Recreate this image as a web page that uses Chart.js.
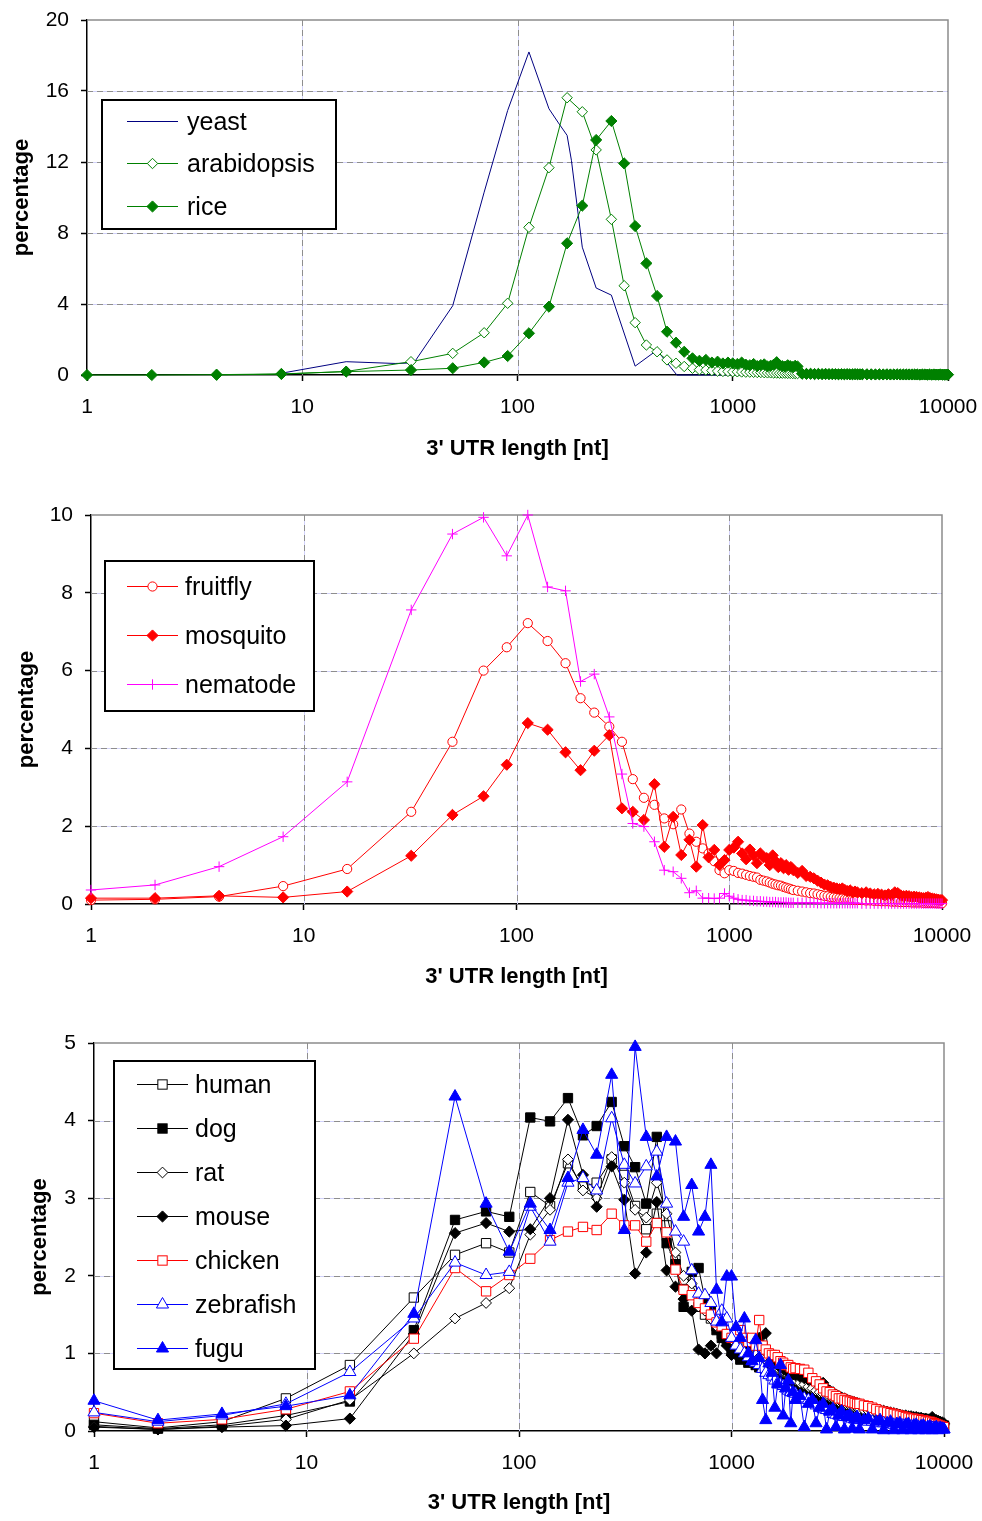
<!DOCTYPE html>
<html><head><meta charset="utf-8">
<script src="https://cdn.jsdelivr.net/npm/chart.js@4.4.1/dist/chart.umd.min.js"></script>
<style>
html,body{margin:0;padding:0;background:#fff;}
#wrap{position:relative;width:982px;height:1521px;overflow:hidden;font-family:"Liberation Sans",Arial,sans-serif;}
canvas{position:absolute;left:0;z-index:0;}
.lg{position:absolute;border:2px solid #000;background:#fff;box-sizing:border-box;z-index:1;}
.lt{position:absolute;font-size:25px;line-height:25px;color:#000;white-space:nowrap;z-index:3;}
#sw{position:absolute;left:0;top:0;z-index:2;pointer-events:none;}
</style></head><body><div id="wrap">
<canvas id="c1"></canvas><canvas id="c2"></canvas><canvas id="c3"></canvas>
<svg id="sw" width="982" height="1521" xmlns="http://www.w3.org/2000/svg"></svg>
</div>
<script>
// ---------------- DATA ----------------
const xTickValues = [1, 10, 100, 1000, 10000];
const yTicks1 = [0, 4, 8, 12, 16, 20];
const yTicks2 = [0, 2, 4, 6, 8, 10];
const yTicks3 = [0, 1, 2, 3, 4, 5];

// 3' UTR length bins (nt): 30 core bins + 70 tail bins
const lengthBins = [
  1, 2, 4, 8, 16, 32, 50, 70, 90, 113,
  140, 170, 200, 232, 273, 313, 352, 397, 445, 495,
  545, 595, 650, 700, 750, 800, 850, 900, 950, 1000,
  1050, 1100, 1150, 1200, 1250, 1300, 1350, 1400, 1450, 1500,
  1550, 1600, 1650, 1700, 1750, 1800, 1850, 1900, 1950, 2000,
  2100, 2200, 2300, 2400, 2500, 2600, 2700, 2800, 2900, 3000,
  3100, 3200, 3300, 3400, 3500, 3600, 3700, 3800, 3900, 4000,
  4200, 4400, 4600, 4800, 5000, 5200, 5400, 5600, 5800, 6000,
  6200, 6400, 6600, 6800, 7000, 7200, 7400, 7600, 7800, 8000,
  8200, 8400, 8600, 8800, 9000, 9200, 9400, 9600, 9800, 10000
];

// panel 1
const yeastLengths = [8, 16, 27, 33, 50, 70, 90, 113, 140, 155, 170, 178, 200, 232, 273, 352, 445, 550, 1000, 1500];
const yeast = [0.1, 0.75, 0.65, 0.68, 3.9, 10.3, 14.9, 18.2, 15.0, 14.2, 13.5, 12.1, 7.2, 4.9, 4.5, 0.5, 1.4, 0, 0, 0];
const arabidopsis = [
  null, null, 0, 0.05, 0.2, 0.75, 1.22, 2.38, 4.04, 8.32,
  11.68, 15.62, 14.83, 12.68, 8.77, 5.03, 2.95, 1.69, 1.31, 0.85,
  0.66, 0.48, 0.38, 0.3, 0.28, 0.25, 0.22, 0.2, 0.2, 0.18,
  0.18, 0.17, 0.16, 0.16, 0.15, 0.14, 0.14, 0.13, 0.12, 0.12,
  0.11, 0.11, 0.1, 0.1, 0.1, 0.09, 0.09, 0.08, 0.08, 0.08,
  0.07, 0.07, 0.06, 0.06, 0.06, 0.05, 0.05, 0.05, 0.05, 0.04,
  0.04, 0.04, 0.04, 0.04, 0.03, 0.03, 0.03, 0.03, 0.03, 0.03,
  0.03, 0.02, 0.02, 0.02, 0.02, 0.02, 0.02, 0.02, 0.02, 0.01,
  0.01, 0.01, 0.01, 0.01, 0.01, 0.01, 0.01, 0.01, 0.01, 0.01,
  0.01, 0.01, 0.01, 0.01, 0.01, 0.01, 0.01, 0.01, 0.01, 0.01
];
const rice = [
  0, 0, 0.02, 0.06, 0.19, 0.28, 0.38, 0.71, 1.07, 2.35,
  3.85, 7.42, 9.54, 13.24, 14.31, 11.92, 8.39, 6.29, 4.45, 2.44,
  1.82, 1.31, 0.94, 0.8, 0.85, 0.7, 0.75, 0.65, 0.7, 0.65,
  0.62, 0.7, 0.58, 0.55, 0.62, 0.5, 0.56, 0.6, 0.48, 0.52,
  0.58, 0.72, 0.55, 0.5, 0.47, 0.55, 0.5, 0.45, 0.52, 0.48,
  0.07, 0.06, 0.07, 0.05, 0.06, 0.05, 0.06, 0.05, 0.05, 0.05,
  0.04, 0.05, 0.04, 0.05, 0.04, 0.04, 0.05, 0.04, 0.04, 0.04,
  0.04, 0.04, 0.03, 0.04, 0.03, 0.04, 0.03, 0.03, 0.04, 0.03,
  0.03, 0.03, 0.03, 0.03, 0.03, 0.03, 0.02, 0.03, 0.03, 0.02,
  0.03, 0.02, 0.03, 0.02, 0.02, 0.03, 0.02, 0.02, 0.02, 0.02
];

// panel 2
const fruitfly = [
  0.1, 0.12, 0.19, 0.46, 0.9, 2.37, 4.17, 6.0, 6.6, 7.22,
  6.76, 6.19, 5.29, 4.92, 4.56, 4.17, 3.21, 2.73, 2.55, 2.2,
  2.05, 2.43, 1.81, 1.6, 1.43, 1.3, 1.1, 0.87, 0.79, 0.87,
  0.85, 0.8, 0.78, 0.75, 0.72, 0.7, 0.68, 0.62, 0.6, 0.58,
  0.55, 0.52, 0.5, 0.48, 0.47, 0.44, 0.42, 0.4, 0.38, 0.36,
  0.34, 0.32, 0.3, 0.28, 0.27, 0.25, 0.23, 0.21, 0.2, 0.18,
  0.17, 0.16, 0.15, 0.14, 0.13, 0.13, 0.12, 0.11, 0.11, 0.1,
  0.1, 0.09, 0.09, 0.08, 0.08, 0.07, 0.07, 0.07, 0.06, 0.06,
  0.06, 0.05, 0.05, 0.05, 0.05, 0.04, 0.04, 0.04, 0.04, 0.04,
  0.03, 0.03, 0.03, 0.03, 0.03, 0.03, 0.02, 0.02, 0.02, 0.02
];
const mosquito = [
  0.15, 0.15, 0.21, 0.17, 0.32, 1.24, 2.29, 2.77, 3.58, 4.65,
  4.48, 3.9, 3.44, 3.94, 4.34, 2.46, 2.37, 2.16, 3.08, 1.47,
  2.24, 1.26, 1.65, 0.96, 2.03, 1.2, 1.39, 1.0, 1.13, 1.39,
  1.45, 1.6, 1.3, 1.15, 1.4, 1.25, 1.05, 1.3, 1.2, 1.18,
  1.0, 1.25, 1.1, 0.95, 1.05, 0.92, 1.0, 0.88, 0.95, 0.87,
  0.8, 0.85, 0.72, 0.7, 0.66, 0.6, 0.55, 0.5, 0.48, 0.44,
  0.42, 0.4, 0.38, 0.4, 0.36, 0.33, 0.35, 0.3, 0.32, 0.3,
  0.28, 0.3, 0.27, 0.25, 0.26, 0.24, 0.22, 0.25, 0.23, 0.3,
  0.28, 0.22, 0.2, 0.21, 0.2, 0.18, 0.19, 0.18, 0.17, 0.16,
  0.15, 0.16, 0.18, 0.15, 0.14, 0.13, 0.12, 0.11, 0.1, 0.1
];
const nematode = [
  0.36, 0.49, 0.96, 1.73, 3.14, 7.56, 9.51, 9.94, 8.95, 10.0,
  8.15, 8.05, 5.72, 5.91, 4.81, 3.34, 2.07, 1.99, 1.6, 0.87,
  0.83, 0.66, 0.29, 0.34, 0.15, 0.15, 0.14, 0.15, 0.27, 0.2,
  0.15, 0.12, 0.1, 0.1, 0.08, 0.08, 0.07, 0.07, 0.06, 0.06,
  0.05, 0.05, 0.05, 0.04, 0.04, 0.04, 0.04, 0.03, 0.03, 0.03,
  0.03, 0.03, 0.03, 0.03, 0.03, 0.02, 0.02, 0.02, 0.02, 0.02,
  0.02, 0.02, 0.02, 0.02, 0.02, 0.02, 0.02, 0.02, 0.02, 0.02,
  0.01, 0.01, 0.01, 0.01, 0.01, 0.01, 0.01, 0.01, 0.01, 0.01,
  0.01, 0.01, 0.01, 0.01, 0.01, 0.01, 0.01, 0.01, 0.01, 0.01,
  0.01, 0.01, 0.01, 0.01, 0.01, 0.01, 0.01, 0.01, 0.01, 0.01
];

// panel 3
const human = [
  0.12, 0.04, 0.12, 0.42, 0.85, 1.72, 2.27, 2.42, 2.3, 3.08,
  2.9, 3.45, 3.15, 3.2, 3.5, 3.3, 2.9, 2.6, 2.8, 2.65,
  2.2, 1.95, 1.8, 1.6, 1.5, 1.45, 1.35, 1.25, 1.2, 1.1,
  1.05, 1.0, 0.98, 0.95, 0.92, 0.9, 0.88, 0.85, 0.82, 0.8,
  0.78, 0.76, 0.73, 0.7, 0.68, 0.66, 0.64, 0.62, 0.6, 0.58,
  0.55, 0.52, 0.5, 0.48, 0.46, 0.44, 0.42, 0.4, 0.38, 0.36,
  0.35, 0.33, 0.32, 0.31, 0.3, 0.29, 0.28, 0.27, 0.26, 0.25,
  0.24, 0.23, 0.22, 0.21, 0.2, 0.19, 0.18, 0.17, 0.16, 0.16,
  0.15, 0.15, 0.14, 0.13, 0.13, 0.12, 0.12, 0.11, 0.11, 0.1,
  0.1, 0.09, 0.09, 0.08, 0.08, 0.08, 0.07, 0.07, 0.06, 0.06
];
const dog = [
  0.08, 0.03, 0.08, 0.2, 0.38, 1.3, 2.72, 2.83, 2.76, 4.04,
  3.99, 4.29, 3.81, 3.93, 4.24, 3.67, 3.4, 2.93, 3.79, 2.42,
  2.15, 1.6, 2.05, 2.1, 1.7, 1.55, 1.3, 1.2, 1.15, 1.05,
  1.0, 0.92, 0.95, 0.88, 0.9, 0.85, 0.82, 0.86, 0.8, 0.78,
  0.75, 0.77, 0.72, 0.7, 0.68, 0.66, 0.63, 0.62, 0.6, 0.58,
  0.56, 0.53, 0.5, 0.47, 0.45, 0.43, 0.41, 0.39, 0.37, 0.35,
  0.34, 0.32, 0.31, 0.3, 0.29, 0.28, 0.27, 0.26, 0.25, 0.24,
  0.23, 0.22, 0.21, 0.2, 0.19, 0.18, 0.17, 0.17, 0.16, 0.15,
  0.15, 0.14, 0.14, 0.13, 0.13, 0.12, 0.12, 0.11, 0.11, 0.1,
  0.1, 0.09, 0.09, 0.09, 0.08, 0.08, 0.08, 0.07, 0.07, 0.07
];
const rat = [
  0.06, 0.02, 0.06, 0.15, 0.4, 1.0, 1.45, 1.65, 1.84, 2.53,
  2.85, 3.5, 3.1, 3.0, 3.53, 3.2, 2.85, 2.75, 3.2, 2.8,
  2.3, 2.0, 1.9, 1.7, 1.55, 1.45, 1.35, 1.3, 1.25, 1.15,
  1.1, 1.08, 1.05, 1.02, 1.0, 0.98, 0.95, 0.92, 0.9, 0.88,
  0.85, 0.83, 0.8, 0.78, 0.76, 0.74, 0.72, 0.7, 0.68, 0.66,
  0.62, 0.6, 0.57, 0.55, 0.52, 0.5, 0.48, 0.46, 0.44, 0.42,
  0.4, 0.38, 0.37, 0.35, 0.34, 0.33, 0.32, 0.31, 0.3, 0.29,
  0.27, 0.26, 0.25, 0.24, 0.23, 0.22, 0.21, 0.2, 0.19, 0.19,
  0.18, 0.17, 0.17, 0.16, 0.15, 0.15, 0.14, 0.14, 0.13, 0.13,
  0.12, 0.12, 0.11, 0.11, 0.1, 0.1, 0.09, 0.09, 0.08, 0.08
];
const mouse = [
  0.05, 0.02, 0.05, 0.07, 0.16, 1.25, 2.55, 2.68, 2.57, 2.6,
  3.0, 4.01, 3.3, 2.89, 3.41, 2.98, 2.03, 2.3, 2.95, 2.07,
  1.86, 1.7, 1.55, 1.05, 1.0, 1.1, 1.0, 1.25, 1.1, 0.98,
  0.98, 1.0, 0.95, 1.05, 1.1, 1.15, 1.2, 1.1, 1.26, 1.0,
  0.92, 0.88, 0.85, 0.82, 0.8, 0.78, 0.76, 0.75, 0.73, 0.72,
  0.7, 0.68, 0.66, 0.65, 0.64, 0.62, 0.62, 0.55, 0.52, 0.5,
  0.47, 0.45, 0.43, 0.42, 0.4, 0.39, 0.38, 0.37, 0.36, 0.35,
  0.33, 0.31, 0.3, 0.28, 0.27, 0.26, 0.25, 0.24, 0.23, 0.22,
  0.21, 0.2, 0.2, 0.19, 0.19, 0.18, 0.18, 0.17, 0.17, 0.16,
  0.16, 0.15, 0.15, 0.18, 0.14, 0.14, 0.13, 0.12, 0.11, 0.1
];
const chicken = [
  0.23, 0.1, 0.15, 0.28, 0.51, 1.19, 2.1, 1.8, 2.01, 2.22,
  2.46, 2.57, 2.63, 2.59, 2.8, 2.65, 2.65, 2.44, 2.68, 2.56,
  2.08, 1.82, 1.75, 1.65, 1.58, 1.5, 1.4, 1.35, 1.25, 1.2,
  1.25, 1.3, 1.2, 1.15, 1.2, 1.1, 1.43, 1.1, 1.05, 1.0,
  0.98, 0.98, 0.95, 0.9, 0.88, 0.85, 0.85, 0.82, 0.8, 0.81,
  0.8, 0.79, 0.75, 0.68, 0.64, 0.6, 0.55, 0.51, 0.5, 0.47,
  0.45, 0.42, 0.42, 0.4, 0.39, 0.38, 0.37, 0.36, 0.35, 0.35,
  0.33, 0.32, 0.3, 0.28, 0.26, 0.25, 0.24, 0.23, 0.22, 0.21,
  0.2, 0.19, 0.18, 0.17, 0.16, 0.16, 0.15, 0.15, 0.14, 0.14,
  0.13, 0.12, 0.12, 0.11, 0.1, 0.09, 0.08, 0.07, 0.06, 0.05
];
const zebrafish = [
  0.24, 0.12, 0.2, 0.35, 0.76, 1.45, 2.17, 2.01, 2.05, 2.89,
  2.44, 3.2, 3.26, 3.1, 4.03, 3.43, 3.19, 3.41, 3.6, 2.93,
  2.57, 2.44, 2.07, 1.77, 1.75, 1.65, 1.41, 1.55, 1.45, 1.2,
  1.1, 1.05, 1.0, 0.95, 0.9, 0.88, 0.85, 0.8, 0.75, 0.72,
  0.7, 0.65, 0.62, 0.6, 0.58, 0.55, 0.52, 0.5, 0.49, 0.48,
  0.45, 0.42, 0.4, 0.36, 0.33, 0.3, 0.28, 0.27, 0.25, 0.22,
  0.21, 0.2, 0.19, 0.18, 0.18, 0.17, 0.16, 0.15, 0.15, 0.14,
  0.13, 0.12, 0.12, 0.11, 0.1, 0.1, 0.09, 0.09, 0.08, 0.08,
  0.07, 0.07, 0.07, 0.06, 0.06, 0.06, 0.05, 0.05, 0.05, 0.05,
  0.04, 0.04, 0.04, 0.04, 0.03, 0.03, 0.03, 0.03, 0.02, 0.02
];
const fugu = [
  0.39, 0.14, 0.22, 0.32, 0.46, 1.51, 4.31, 2.93, 2.31, 2.93,
  2.59, 3.26, 3.88, 3.56, 4.59, 2.59, 4.95, 3.79, 3.28, 3.79,
  3.73, 2.76, 3.17, 2.57, 2.76, 3.43, 1.82, 1.4, 1.99, 1.99,
  1.34, 1.2, 1.45, 1.0, 0.9, 1.17, 0.94, 0.4, 0.14, 0.87,
  0.75, 0.3, 0.6, 0.85, 0.2, 0.55, 0.65, 0.1, 0.5, 0.4,
  0.45, 0.05, 0.35, 0.4, 0.1, 0.3, 0.35, 0.02, 0.25, 0.28,
  0.05, 0.2, 0.25, 0.02, 0.18, 0.2, 0.03, 0.15, 0.18, 0.02,
  0.14, 0.16, 0.02, 0.12, 0.14, 0.01, 0.1, 0.12, 0.01, 0.09,
  0.1, 0.01, 0.08, 0.09, 0.01, 0.07, 0.08, 0.01, 0.06, 0.07,
  0.01, 0.05, 0.06, 0.01, 0.04, 0.05, 0.01, 0.04, 0.03, 0.02
];

// ---------------- RENDERING ----------------
const FONT = "'Liberation Sans', Arial, sans-serif";

function pts(xs, ys) {
  const out = [];
  for (let i = 0; i < xs.length; i++) {
    if (ys[i] !== null && ys[i] !== undefined) out.push({x: xs[i], y: ys[i]});
  }
  return out;
}

function series(label, xs, ys, color, style, radius, filled) {
  return {
    label, data: pts(xs, ys), showLine: true, tension: 0, clip: false,
    borderColor: color, borderWidth: 1,
    pointStyle: style === 'none' ? 'circle' : style,
    pointRadius: style === 'none' ? 0 : radius,
    pointBorderColor: color, pointBorderWidth: 1,
    pointBackgroundColor: filled ? color : '#ffffff',
    _style: style, _r: radius, _filled: filled
  };
}

const gridPlugin = {
  id: 'excelGrid',
  beforeDatasetsDraw(chart) {
    const {ctx, chartArea: {left, right, top, bottom}, scales: {x, y}} = chart;
    const lines = [];
    x.ticks.forEach(t => {
      const p = Math.round(x.getPixelForValue(t.value)) + 0.5;
      if (p > left + 2 && p < right - 2) lines.push([p, top, p, bottom]);
    });
    y.ticks.forEach(t => {
      const p = Math.round(y.getPixelForValue(t.value)) + 0.5;
      if (p > top + 2 && p < bottom - 2) lines.push([left, p, right, p]);
    });
    ctx.save();
    ctx.lineWidth = 1;
    const strokeAll = () => {
      ctx.beginPath();
      lines.forEach(l => { ctx.moveTo(l[0], l[1]); ctx.lineTo(l[2], l[3]); });
      ctx.stroke();
    };
    ctx.strokeStyle = '#d2d2fa'; ctx.setLineDash([]); strokeAll();
    ctx.strokeStyle = '#8e8e8e'; ctx.setLineDash([6, 4]); strokeAll();
    ctx.setLineDash([]);
    ctx.strokeStyle = '#8c8c8c'; ctx.lineWidth = 1.5;
    ctx.beginPath(); ctx.moveTo(left, top); ctx.lineTo(right, top); ctx.lineTo(right, bottom); ctx.stroke();
    ctx.restore();
  }
};

function makePanel(id, geo, yTickList, datasets) {
  const canvas = document.getElementById(id);
  canvas.width = 982; canvas.height = geo.h;
  canvas.style.top = geo.t + 'px';
  canvas.style.width = '982px'; canvas.style.height = geo.h + 'px';
  datasets.forEach((d, i) => { d.order = -i; });
  new Chart(canvas, {
    type: 'scatter',
    data: {datasets},
    options: {
      responsive: false, animation: false, events: [], devicePixelRatio: 1,
      layout: {padding: {left: 0, right: 982 - geo.right, top: geo.top - geo.t, bottom: 0}},
      plugins: {legend: {display: false}, tooltip: {enabled: false}},
      scales: {
        x: {
          type: 'logarithmic', min: 1, max: 10000,
          afterBuildTicks: s => { s.ticks = xTickValues.map(v => ({value: v})); },
          afterFit: s => { s.height = geo.h - (geo.bottom - geo.t); s.paddingLeft = 0; s.paddingRight = 0; },
          ticks: {callback: v => String(v), font: {family: FONT, size: 21}, color: '#000', padding: 14, maxRotation: 0, autoSkip: false},
          grid: {display: true, drawOnChartArea: false, drawTicks: true, tickLength: 6, tickColor: '#000', tickWidth: 1.5},
          border: {display: true, color: '#000', width: 1.5},
          title: {display: true, text: "3' UTR length [nt]", color: '#000',
                  font: {family: FONT, size: 22, weight: 'bold'},
                  padding: {top: 0, bottom: geo.t + geo.h - geo.xTitleY - 13.2}}
        },
        y: {
          type: 'linear', min: yTickList[0], max: yTickList[yTickList.length - 1],
          afterBuildTicks: s => { s.ticks = yTickList.map(v => ({value: v})); },
          afterFit: s => { s.width = geo.left; s.paddingTop = 0; s.paddingBottom = 0; },
          ticks: {font: {family: FONT, size: 21}, color: '#000', padding: 12},
          grid: {display: true, drawOnChartArea: false, drawTicks: true, tickLength: 6, tickColor: '#000', tickWidth: 1.5},
          border: {display: true, color: '#000', width: 1.5},
          title: {display: true, text: 'percentage', color: '#000',
                  font: {family: FONT, size: 22, weight: 'bold'},
                  padding: {top: geo.yTitleX - 13.2, bottom: 0}}
        }
      }
    },
    plugins: [gridPlugin]
  });
}

const GREEN = '#008000', NAVY = '#000080', RED = '#ff0000', MAG = '#ff00ff', BLUE = '#0000ff', BLK = '#000000';

const ds1 = [
  series('yeast', yeastLengths, yeast, NAVY, 'none', 0, false),
  series('arabidopsis', lengthBins, arabidopsis, GREEN, 'rectRot', 5.2, false),
  series('rice', lengthBins, rice, GREEN, 'rectRot', 5.6, true)
];
const ds2 = [
  series('fruitfly', lengthBins, fruitfly, RED, 'circle', 4.6, false),
  series('mosquito', lengthBins, mosquito, RED, 'rectRot', 5.6, true),
  series('nematode', lengthBins, nematode, MAG, 'cross', 5.2, false)
];
const ds3 = [
  series('human', lengthBins, human, BLK, 'rect', 6.6, false),
  series('dog', lengthBins, dog, BLK, 'rect', 6.6, true),
  series('rat', lengthBins, rat, BLK, 'rectRot', 5.4, false),
  series('mouse', lengthBins, mouse, BLK, 'rectRot', 5.6, true),
  series('chicken', lengthBins, chicken, RED, 'rect', 6.6, false),
  series('zebrafish', lengthBins, zebrafish, BLUE, 'triangle', 7, false),
  series('fugu', lengthBins, fugu, BLUE, 'triangle', 7, true)
];

makePanel('c1', {t: 0, h: 480, left: 87, right: 948, top: 20, bottom: 375, xTitleY: 449, yTitleX: 22}, yTicks1, ds1);
makePanel('c2', {t: 480, h: 520, left: 91, right: 942, top: 515, bottom: 904, xTitleY: 977, yTitleX: 27}, yTicks2, ds2);
makePanel('c3', {t: 1000, h: 521, left: 94, right: 944, top: 1043, bottom: 1431, xTitleY: 1503, yTitleX: 40}, yTicks3, ds3);

// ---------------- LEGENDS (HTML/SVG) ----------------
const wrap = document.getElementById('wrap');
const sw = document.getElementById('sw');
function markerSVG(style, cx, cy, r, fill, stroke) {
  const a = `fill="${fill}" stroke="${stroke}" stroke-width="1"`;
  if (style === 'circle') return `<circle cx="${cx}" cy="${cy}" r="${r}" ${a}/>`;
  if (style === 'rect') { const s = r * Math.SQRT1_2; return `<rect x="${cx - s}" y="${cy - s}" width="${2 * s}" height="${2 * s}" ${a}/>`; }
  if (style === 'rectRot') return `<polygon points="${cx},${cy - r} ${cx + r},${cy} ${cx},${cy + r} ${cx - r},${cy}" ${a}/>`;
  if (style === 'triangle') return `<polygon points="${cx},${cy - r} ${cx + 0.866 * r},${cy + 0.5 * r} ${cx - 0.866 * r},${cy + 0.5 * r}" ${a}/>`;
  if (style === 'cross') return `<path d="M${cx - r} ${cy}H${cx + r}M${cx} ${cy - r}V${cy + r}" stroke="${stroke}" stroke-width="1" fill="none"/>`;
  return '';
}
function legend(box, rows, lineX1, lineX2, textX, datasets) {
  const d = document.createElement('div');
  d.className = 'lg';
  d.style.left = box[0] + 'px'; d.style.top = box[1] + 'px';
  d.style.width = (box[2] - box[0]) + 'px'; d.style.height = (box[3] - box[1]) + 'px';
  wrap.appendChild(d);
  let svg = '';
  datasets.forEach((ds, i) => {
    const y = rows[i] + 0.5;
    svg += `<line x1="${lineX1}" y1="${y}" x2="${lineX2}" y2="${y}" stroke="${ds.borderColor}" stroke-width="1"/>`;
    if (ds._style !== 'none') svg += markerSVG(ds._style, (lineX1 + lineX2) / 2, y, ds._r, ds._filled ? ds.borderColor : '#fff', ds.borderColor);
    const t = document.createElement('div');
    t.className = 'lt';
    t.textContent = ds.label;
    t.style.left = textX + 'px'; t.style.top = (rows[i] - 12) + 'px';
    wrap.appendChild(t);
  });
  sw.innerHTML += svg;
}
legend([101, 99, 337, 230], [121, 163, 206], 127, 178, 187, ds1);
legend([104, 560, 315, 712], [586, 635, 684], 127, 178, 185, ds2);
legend([113, 1060, 316, 1370], [1084, 1128, 1172, 1216, 1260, 1304, 1348], 137, 188, 195, ds3);
</script>
</body></html>
